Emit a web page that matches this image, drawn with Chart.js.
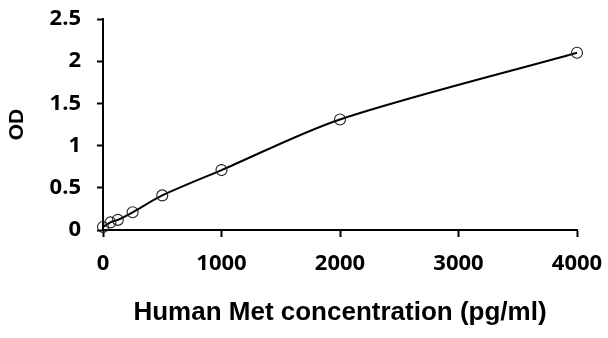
<!DOCTYPE html>
<html>
<head>
<meta charset="utf-8">
<script src="https://cdn.jsdelivr.net/npm/chart.js@4"></script>
<style>
html, body { margin: 0; padding: 0; background: #fff; }
#wrap { width: 608px; height: 338px; }
</style>
</head>
<body>
<div id="wrap"><canvas id="c"></canvas></div>
<script>
const concentrations = [0, 62.5, 125, 250, 500, 1000, 2000, 4000];
const odValues = [0.035, 0.09, 0.12, 0.21, 0.41, 0.71, 1.31, 2.10];
const xTicks = [0, 1000, 2000, 3000, 4000];
const yTicks = [0, 0.5, 1, 1.5, 2, 2.5];

const points = concentrations.map((x, i) => ({ x: x, y: odValues[i] }));

const tickFont = { family: 'Open Sans', size: 22, weight: 'bold' };

new Chart(document.getElementById('c'), {
	type: 'scatter',
	data: {
		datasets: [{
			data: points,
			showLine: true,
			borderColor: '#000',
			borderWidth: 2,
			tension: 0.3,
			pointRadius: 5.5,
			pointBorderWidth: 1.1,
			pointBorderColor: '#222',
			pointBackgroundColor: 'rgba(255,255,255,0)',
			clip: false
		}]
	},
	options: {
		responsive: true,
		maintainAspectRatio: false,
		animation: false,
		layout: { padding: { top: 19, right: 31, left: 0, bottom: 0 } },
		plugins: { legend: { display: false }, tooltip: { enabled: false } },
		scales: {
			x: {
				type: 'linear',
				min: 0,
				max: 4000,
				afterBuildTicks: axis => { axis.ticks = xTicks.map(v => ({ value: v })); },
				afterFit: axis => { axis.height = 108; axis.paddingLeft = 0; axis.paddingRight = 0; },
				ticks: { color: '#000', font: tickFont, padding: 14, maxRotation: 0, callback: v => String(v) },
				grid: { drawOnChartArea: false, drawTicks: true, tickLength: 7, tickColor: '#000', tickWidth: 2 },
				border: { color: '#000', width: 2 },
				title: { display: true, text: 'Human Met concentration (pg/ml)', color: '#000', font: { family: 'Liberation Sans', size: 26, weight: 'bold' }, padding: { top: 0, bottom: 10 } }
			},
			y: {
				min: 0,
				max: 2.5,
				afterBuildTicks: axis => { axis.ticks = yTicks.map(v => ({ value: v })); },
				afterFit: axis => { axis.width = 103; axis.paddingTop = 0; axis.paddingBottom = 0; },
				ticks: { color: '#000', font: tickFont, padding: 16, callback: v => String(v) },
				grid: { drawOnChartArea: false, drawTicks: true, tickLength: 6, tickColor: '#000', tickWidth: 2 },
				border: { color: '#000', width: 2 },
				title: { display: true, text: 'OD', color: '#000', font: { family: 'Liberation Sans', size: 21, weight: 'bold' }, padding: { top: 5, bottom: 0 } }
			}
		}
	}
});
</script>
</body>
</html>
